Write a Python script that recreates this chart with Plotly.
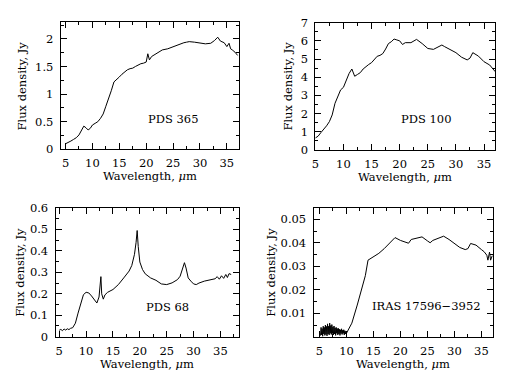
"""Espectros IR de quatro fontes em painel 2x2."""

import plotly.graph_objects as go

# PDS 365
pds365_wl = [5.0, 5.5, 6.0, 6.5, 7.0, 7.5, 8.0, 8.4, 8.8, 9.2, 9.6, 10.0, 10.5, 11.0,
             11.5, 12.0, 12.5, 13.0, 13.5, 14.0, 14.5, 15.0, 15.5, 16.0, 16.5, 17.0,
             17.5, 18.0, 18.5, 19.0, 19.5, 20.0, 20.3, 20.6, 21.0, 22.0, 23.0, 24.0,
             25.0, 26.0, 27.0, 27.5, 28.0, 29.0, 30.0, 31.0, 32.0, 32.7, 33.3, 33.8,
             34.5, 35.0, 35.4, 35.7, 36.0, 36.5, 37.0]
pds365_fx = [0.10, 0.12, 0.15, 0.18, 0.21, 0.26, 0.35, 0.42, 0.39, 0.35, 0.38, 0.44,
             0.47, 0.50, 0.56, 0.64, 0.78, 0.91, 1.06, 1.22, 1.26, 1.31, 1.36, 1.40,
             1.44, 1.46, 1.47, 1.50, 1.53, 1.55, 1.56, 1.58, 1.73, 1.62, 1.68, 1.74,
             1.80, 1.82, 1.86, 1.90, 1.93, 1.94, 1.95, 1.94, 1.93, 1.91, 1.92, 1.97,
             2.03, 1.96, 1.93, 1.86, 1.92, 1.82, 1.80, 1.76, 1.70]

# PDS 100
pds100_wl = [5.0, 5.5, 6.0, 6.5, 7.0, 7.5, 8.0, 8.5, 9.0, 9.5, 10.0, 10.5, 11.0, 11.5,
             12.0, 12.5, 13.0, 13.5, 14.0, 14.5, 15.0, 15.5, 16.0, 16.5, 17.0, 17.5,
             18.0, 18.5, 19.0, 19.5, 20.0, 20.5, 21.0, 22.0, 23.0, 24.0, 25.0, 26.0,
             27.0, 27.5, 28.0, 29.0, 30.0, 31.0, 32.0, 32.5, 33.0, 34.0, 35.0, 36.0,
             37.0]
pds100_fx = [0.65, 0.75, 0.95, 1.12, 1.32, 1.55, 1.92, 2.56, 2.93, 3.30, 3.44, 3.85,
             4.20, 4.45, 4.05, 4.15, 4.25, 4.45, 4.60, 4.70, 4.80, 5.00, 5.15, 5.20,
             5.30, 5.55, 5.85, 5.95, 6.10, 6.05, 6.00, 5.80, 5.90, 5.90, 6.08, 5.85,
             5.58, 5.53, 5.70, 5.77, 5.68, 5.50, 5.35, 5.10, 4.95, 5.05, 5.35, 5.16,
             4.85, 4.67, 4.30]

# PDS 68
pds68_wl = [5.0, 5.3, 5.6, 5.9, 6.2, 6.5, 6.8, 7.1, 7.5, 8.0, 8.5, 9.0, 9.5, 10.0, 10.5,
            11.0, 11.5, 12.0, 12.4, 12.6, 12.75, 12.9, 13.2, 13.5, 14.0, 15.0, 16.0,
            17.0, 18.0, 18.5, 19.0, 19.3, 19.5, 19.7, 20.0, 20.5, 21.0, 22.0, 23.0,
            24.0, 25.0, 26.0, 27.0, 27.5, 28.0, 28.3, 28.6, 29.0, 29.5, 30.0, 30.5,
            31.0, 32.0, 33.0, 34.0, 34.4, 34.8, 35.2, 35.6, 36.0, 36.3, 36.6, 37.0]
pds68_fx = [0.030, 0.034, 0.028, 0.036, 0.031, 0.037, 0.033, 0.039, 0.042, 0.063, 0.110,
            0.157, 0.196, 0.207, 0.204, 0.190, 0.172, 0.157, 0.185, 0.235, 0.280, 0.200,
            0.175, 0.195, 0.207, 0.220, 0.243, 0.274, 0.306, 0.332, 0.384, 0.440, 0.495,
            0.420, 0.348, 0.313, 0.293, 0.274, 0.263, 0.246, 0.243, 0.251, 0.266, 0.282,
            0.320, 0.345, 0.320, 0.274, 0.259, 0.246, 0.243, 0.250, 0.259, 0.266, 0.270,
            0.280, 0.268, 0.284, 0.272, 0.290, 0.276, 0.294, 0.290]

# IRAS 17596-3952
iras_wl = [5.2, 5.3, 5.4, 5.5, 5.6, 5.7, 5.8, 5.9, 6.0, 6.1, 6.2, 6.3, 6.4, 6.5, 6.6,
           6.7, 6.8, 6.9, 7.0, 7.1, 7.2, 7.3, 7.4, 7.5, 7.6, 7.7, 7.8, 7.9, 8.0, 8.1,
           8.2, 8.3, 8.4, 8.5, 8.6, 8.7, 8.8, 8.9, 9.0, 9.1, 9.2, 9.3, 9.4, 9.5, 9.6,
           9.7, 9.8, 9.9, 10.0, 11.0, 12.0, 13.0, 13.5, 14.0, 15.0, 16.0, 17.0,
           18.0, 19.0, 20.0, 21.0, 21.5, 22.0, 23.0, 24.0, 25.0, 25.5, 26.0, 27.0, 28.0,
           29.0, 30.0, 31.0, 32.0, 32.5, 33.0, 34.0, 35.0, 35.5, 36.0, 36.2, 36.5, 36.7,
           37.0]
iras_fx = [0.0005, 0.0040, 0.0008, 0.0035, 0.0002, 0.0045, 0.0012, 0.0040, 0.0006,
           0.0050, 0.0010, 0.0044, 0.0004, 0.0055, 0.0012, 0.0045, 0.0008, 0.0058,
           0.0015, 0.0048, 0.0010, 0.0052, 0.0014, 0.0042, 0.0008, 0.0046, 0.0012,
           0.0038, 0.0006, 0.0040, 0.0015, 0.0035, 0.0008, 0.0036, 0.0012, 0.0032,
           0.0006, 0.0030, 0.0014, 0.0034, 0.0010, 0.0028, 0.0015, 0.0030, 0.0008,
           0.0026, 0.0012, 0.0024, 0.0015, 0.0058, 0.0135, 0.0213,
           0.0260, 0.0326, 0.0340, 0.0355, 0.0375, 0.0397, 0.0422, 0.0410, 0.0404,
           0.0398, 0.0414, 0.0418, 0.0425, 0.0408, 0.0400, 0.0410, 0.0418, 0.0428,
           0.0414, 0.0397, 0.0380, 0.0371, 0.0375, 0.0397, 0.0390, 0.0371, 0.0362,
           0.0347, 0.0326, 0.0360, 0.0326, 0.0345]

FONT = "DejaVu Serif"
FS = 11.5

# a pagina tem margem de 8 px no body: a figura fica 8 px menor e deslocada
OFF = 8
W, H = 521 - OFF, 383 - OFF


def dominio(esq, topo, dir_, base):
    """Caixa em pixels da tela -> dominios x e y do plotly."""
    return ([(esq - OFF) / W, (dir_ - OFF) / W],
            [1 - (base - OFF) / H, 1 - (topo - OFF) / H])


PAINEIS = [
    # (wl, fx, nome, caixa px, x range, y range, y dtick, y minor,
    #  pos do nome, desloc. titulo y, desloc. titulo x)
    (pds365_wl, pds365_fx, "PDS 365", (60.7, 22.3, 238.7, 149.3),
     [4.1, 37.2], [0, 2.3], 0.5, 0.25, (0.78, 0.17), -39, -27),
    (pds100_wl, pds100_fx, "PDS 100", (315.3, 22.7, 495.3, 149.8),
     [5, 37], [0, 7], 1, 0.5, (0.767, 0.175), -27, -27),
    (pds68_wl, pds68_fx, "PDS 68", (55.5, 208.0, 238.7, 336.7),
     [4.3, 38.4], [0, 0.6], 0.1, 0.05, (0.739, 0.157), -35, -27),
    (iras_wl, iras_fx, "IRAS 17596\u22123952", (313.5, 207.5, 493.3, 336.8),
     [3.9, 37.2], [0, 0.055], 0.01, 0.005, (0.63, 0.17), -42, -27),
]

fig = go.Figure()
eixo = dict(
    showline=True, linecolor="black", linewidth=1, mirror="ticks",
    ticks="inside", ticklen=6, tickcolor="black", tickwidth=1,
    showgrid=False, zeroline=False, automargin=False,
    tickfont=dict(family=FONT, size=FS, color="black"),
)

for i, (wl, fx, nome, caixa, xr, yr, ydt, ymin, pos, dy, dx) in enumerate(PAINEIS, 1):
    sx = "" if i == 1 else str(i)
    xd, yd = dominio(*caixa)
    fig.add_trace(go.Scatter(
        x=wl, y=fx, mode="lines", line=dict(color="black", width=1),
        xaxis="x" + sx, yaxis="y" + sx, showlegend=False,
    ))
    yticks = dict(dtick=ydt, tick0=0)
    if i == 4:
        yticks = dict(tickvals=[0.01, 0.02, 0.03, 0.04, 0.05],
                      ticktext=["0.01", "0.02", "0.03", "0.04", "0.05"])
    fig.update_layout(**{
        "xaxis" + sx: dict(eixo, domain=xd, range=xr, dtick=5, tick0=0,
                           anchor="y" + sx, ticklabelstandoff=3,
                           minor=dict(ticks="inside", dtick=2.5, ticklen=3,
                                      tickcolor="black")),
        "yaxis" + sx: dict(eixo, domain=yd, range=yr, anchor="x" + sx,
                           ticklabelstandoff=4,
                           minor=dict(ticks="inside", dtick=ymin, tick0=0, ticklen=3,
                                      tickcolor="black"), **yticks),
    })
    dom_x = "x%s domain" % sx
    dom_y = "y%s domain" % sx
    fig.add_annotation(text=nome, xref=dom_x, yref=dom_y, x=pos[0], y=pos[1],
                       showarrow=False, font=dict(family=FONT, size=FS, color="black"))
    fig.add_annotation(text="Wavelength, <i>\u03bc</i>m", xref=dom_x, yref=dom_y,
                       x=0.5, y=0, yanchor="middle", yshift=dx, showarrow=False,
                       font=dict(family=FONT, size=FS, color="black"))
    fig.add_annotation(text="Flux density, Jy", xref=dom_x, yref=dom_y, x=0, y=0.5,
                       xanchor="center", xshift=dy, textangle=-90,
                       showarrow=False, font=dict(family=FONT, size=FS, color="black"))

fig.update_layout(
    width=W, height=H,
    margin=dict(l=0, r=0, t=0, b=0),
    paper_bgcolor="white", plot_bgcolor="white",
)
fig.write_html("out.html")
